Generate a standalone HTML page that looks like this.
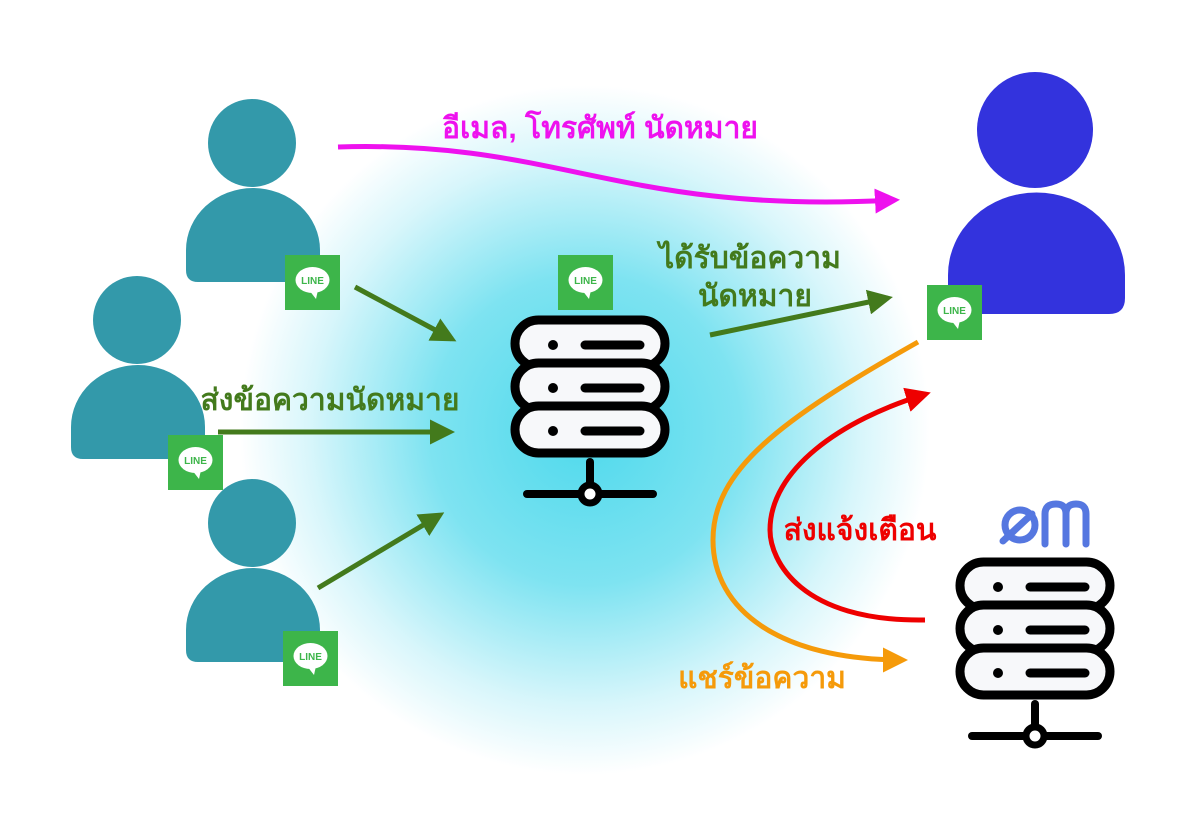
<!DOCTYPE html>
<html><head><meta charset="utf-8"><style>
html,body{margin:0;padding:0;background:#fff;}
svg{display:block}
text{font-family:"Liberation Sans","DejaVu Sans",sans-serif;font-weight:bold}
</style></head><body>
<svg width="1200" height="820" viewBox="0 0 1200 820" xmlns="http://www.w3.org/2000/svg">
<defs>
<radialGradient id="glow" cx="585" cy="430" r="345" gradientUnits="userSpaceOnUse">
<stop offset="0" stop-color="#4ed9ec"/>
<stop offset="0.45" stop-color="#7ee3f1"/>
<stop offset="0.8" stop-color="#d8f6fb"/>
<stop offset="1" stop-color="#ffffff"/>
</radialGradient>
<g id="line">
<rect x="0" y="0" width="55" height="55" fill="#3db54a"/>
<ellipse cx="27.5" cy="25" rx="17" ry="13" fill="#fff"/>
<path d="M24,35 L31,44 L33,35 Z" fill="#fff"/>
<text x="27.5" y="29" font-size="10" fill="#3db54a" text-anchor="middle">LINE</text>
</g>
<g id="server">
<rect x="0" y="0" width="150" height="47" rx="23.5" fill="#f7f8fa" stroke="#000" stroke-width="9"/>
<rect x="0" y="43" width="150" height="47" rx="23.5" fill="#f7f8fa" stroke="#000" stroke-width="9"/>
<rect x="0" y="86" width="150" height="47" rx="23.5" fill="#f7f8fa" stroke="#000" stroke-width="9"/>
<circle cx="38" cy="25" r="5" fill="#000"/><line x1="70" y1="25" x2="125" y2="25" stroke="#000" stroke-width="9" stroke-linecap="round"/>
<circle cx="38" cy="68" r="5" fill="#000"/><line x1="70" y1="68" x2="125" y2="68" stroke="#000" stroke-width="9" stroke-linecap="round"/>
<circle cx="38" cy="111" r="5" fill="#000"/><line x1="70" y1="111" x2="125" y2="111" stroke="#000" stroke-width="9" stroke-linecap="round"/>
<line x1="75" y1="142" x2="75" y2="168" stroke="#000" stroke-width="8" stroke-linecap="round"/>
<line x1="12" y1="174" x2="138" y2="174" stroke="#000" stroke-width="8" stroke-linecap="round"/>
<circle cx="75" cy="174" r="9" fill="#fff" stroke="#000" stroke-width="7"/>
</g>
<g id="person">
<circle cx="66" cy="-45" r="44"/>
<path d="M0,82 L0,62 A67,62 0 0 1 134,62 L134,82 Q134,94 122,94 L12,94 Q0,94 0,82 Z"/>
</g>
<marker id="ag" viewBox="0 0 10 10" refX="8" refY="5" markerWidth="5" markerHeight="5" orient="auto"><path d="M0,0 L10,5 L0,10 Z" fill="#437a1c"/></marker>
<marker id="am" viewBox="0 0 10 10" refX="8" refY="5" markerWidth="5" markerHeight="5" orient="auto"><path d="M0,0 L10,5 L0,10 Z" fill="#ee11ee"/></marker>
<marker id="ar" viewBox="0 0 10 10" refX="8" refY="5" markerWidth="5" markerHeight="5" orient="auto"><path d="M0,0 L10,5 L0,10 Z" fill="#ee0000"/></marker>
<marker id="ao" viewBox="0 0 10 10" refX="8" refY="5" markerWidth="5" markerHeight="5" orient="auto"><path d="M0,0 L10,5 L0,10 Z" fill="#f59a0a"/></marker>
</defs>
<circle cx="585" cy="430" r="345" fill="url(#glow)"/>

<g fill="#3399aa">
<use href="#person" x="186" y="188"/>
<use href="#person" x="71" y="365"/>
<use href="#person" x="186" y="568"/>
</g>
<g fill="#3333dd">
<circle cx="1035" cy="130" r="58"/>
<path d="M948,298 L948,275 A88,82 0 0 1 1125,275 L1125,298 Q1125,314 1109,314 L964,314 Q948,314 948,298 Z"/>
</g>
<use href="#line" x="285" y="255"/>
<use href="#line" x="168" y="435"/>
<use href="#line" x="283" y="631"/>
<use href="#line" x="927" y="285"/>
<use href="#line" x="558" y="255"/>

<use href="#server" x="515" y="320"/>
<use href="#server" x="960" y="562"/>
<g fill="none" stroke="#5577e0" stroke-width="7" stroke-linecap="round" stroke-linejoin="round">
<circle cx="1020" cy="525" r="15"/>
<line x1="1003" y1="541" x2="1032" y2="514"/>
<path d="M1045,544 L1045,514 Q1045,504 1056,504 Q1066,504 1066,514 L1066,544 M1066,514 Q1066,504 1076,504 Q1086,504 1086,514 L1086,544"/>
</g>

<path d="M338,147 C560,140 620,215 895,200" fill="none" stroke="#ee11ee" stroke-width="5" marker-end="url(#am)"/>
<line x1="355" y1="287" x2="452" y2="339" stroke="#437a1c" stroke-width="5" marker-end="url(#ag)"/>
<line x1="218" y1="432" x2="450" y2="432" stroke="#437a1c" stroke-width="5" marker-end="url(#ag)"/>
<line x1="318" y1="588" x2="440" y2="515" stroke="#437a1c" stroke-width="5" marker-end="url(#ag)"/>
<line x1="710" y1="335" x2="888" y2="298" stroke="#437a1c" stroke-width="5" marker-end="url(#ag)"/>
<path d="M925,620 C800,622 770,560 770,530 C770,470 840,420 926,394" fill="none" stroke="#ee0000" stroke-width="5" marker-end="url(#ar)"/>
<path d="M918,342 C780,420 713,470 713,540 C713,610 780,660 903,660" fill="none" stroke="#f59a0a" stroke-width="5" marker-end="url(#ao)"/>

<text x="600" y="138" font-size="30" fill="#ee11ee" text-anchor="middle">อีเมล, โทรศัพท์ นัดหมาย</text>
<text x="330" y="410" font-size="30" fill="#437a1c" text-anchor="middle">ส่งข้อความนัดหมาย</text>
<text x="750" y="268" font-size="30" fill="#437a1c" text-anchor="middle">ได้รับข้อความ</text>
<text x="755" y="306" font-size="30" fill="#437a1c" text-anchor="middle">นัดหมาย</text>
<text x="860" y="540" font-size="30" fill="#ee0000" text-anchor="middle">ส่งแจ้งเตือน</text>
<text x="762" y="688" font-size="30" fill="#f59a0a" text-anchor="middle">แชร์ข้อความ</text>
</svg>
</body></html>
